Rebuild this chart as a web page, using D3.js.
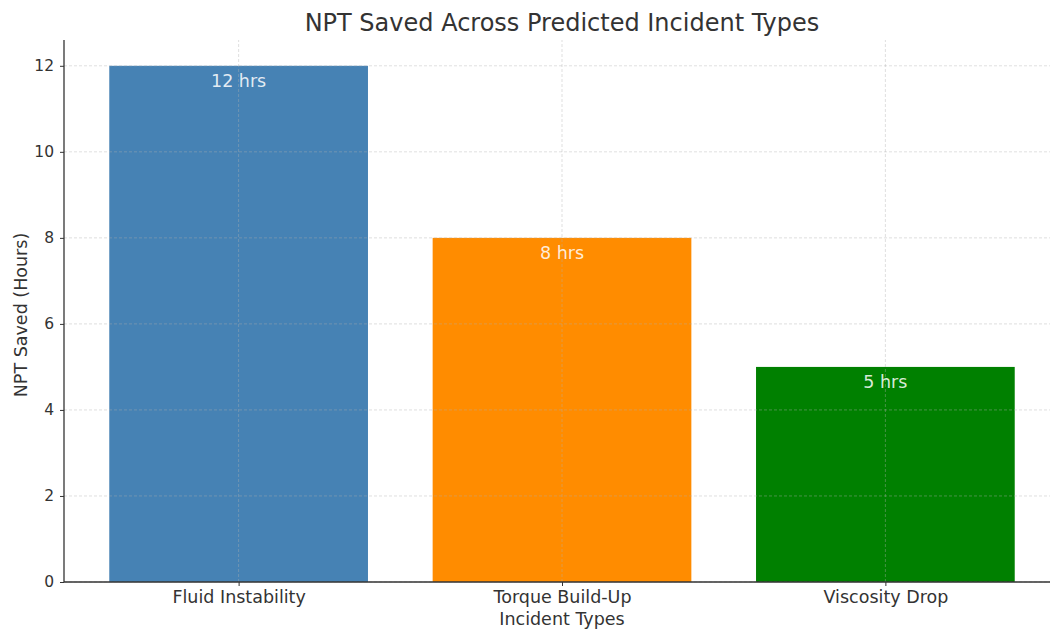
<!DOCTYPE html>
<html>
<head>
<meta charset="utf-8">
<script src="https://cdn.jsdelivr.net/npm/d3@7"></script>
<style>
  body { margin: 0; background: #fff; }
  text { font-family: "DejaVu Sans", sans-serif; }
</style>
</head>
<body>
<div id="chart"></div>
<script>
// chart data
const categories = ["Fluid Instability", "Torque Build-Up", "Viscosity Drop"]
const hoursSaved = [12, 8, 5]
const barColors = ["#4682b4", "#ff8c00", "#008000"]
const yTicks = [0, 2, 4, 6, 8, 10, 12]

const width = 1050, height = 629
const margin = {top: 40, left: 64, bottom: 47}

const svg = d3.select("#chart").append("svg")
  .attr("width", width).attr("height", height)

// x is linear over bar index, like matplotlib does it
const x = d3.scaleLinear().domain([-0.54, 2.54]).range([margin.left, 1060])
const y = d3.scaleLinear().domain([0, 12.6]).range([height - margin.bottom, margin.top])
const barW = x(0.4) - x(-0.4)

// bars
svg.selectAll(".bar").data(hoursSaved).enter().append("rect")
  .attr("x", (d, i) => x(i) - barW / 2)
  .attr("y", d => y(d))
  .attr("width", barW)
  .attr("height", d => y(0) - y(d))
  .attr("fill", (d, i) => barColors[i])

// grid lines on top of the bars
const grid = svg.append("g")
grid.selectAll(".hg").data(yTicks).enter().append("line")
  .attr("x1", margin.left).attr("x2", width)
  .attr("y1", d => y(d)).attr("y2", d => y(d))
grid.selectAll(".vg").data(categories).enter().append("line")
  .attr("x1", (d, i) => x(i)).attr("x2", (d, i) => x(i))
  .attr("y1", y(0)).attr("y2", margin.top)
grid.selectAll("line")
  .attr("stroke", "#b0b0b0").attr("stroke-opacity", 0.5)
  .attr("stroke-width", 0.8).attr("stroke-dasharray", "3,2")

// value labels inside bars
svg.selectAll(".lbl").data(hoursSaved).enter().append("text")
  .attr("x", (d, i) => x(i))
  .attr("y", d => y(d - 0.5))
  .attr("text-anchor", "middle")
  .attr("font-size", 17.5)
  .attr("fill", "#ffffff").attr("fill-opacity", 0.85)
  .text(d => d + " hrs")

// axes
const yAxis = d3.axisLeft(y).tickValues(yTicks).tickSize(4).tickPadding(6)
const gy = svg.append("g").attr("transform", "translate(" + margin.left + ",0)").call(yAxis)
const xAxis = d3.axisBottom(x).tickValues([0, 1, 2]).tickFormat((d) => categories[d]).tickSize(4).tickPadding(5)
const gx = svg.append("g").attr("transform", "translate(0," + y(0) + ")").call(xAxis)

gy.select(".domain").attr("d", "M0," + y(0) + "V" + margin.top)
gx.select(".domain").attr("d", "M" + margin.left + ",0H" + width)
svg.selectAll(".domain").attr("stroke", "#333").attr("stroke-width", 1.3)
svg.selectAll(".tick line").attr("stroke", "#333")
svg.selectAll(".tick text").attr("fill", "#333")
  .style("font-family", "DejaVu Sans, sans-serif")
gy.selectAll(".tick text").attr("font-size", 15.5)
gx.selectAll(".tick text").attr("font-size", 17.5)

// title and axis labels
svg.append("text")
  .attr("x", 562).attr("y", 31)
  .attr("text-anchor", "middle")
  .attr("font-size", 24).attr("fill", "#333")
  .text("NPT Saved Across Predicted Incident Types")

svg.append("text")
  .attr("x", 562).attr("y", 625)
  .attr("text-anchor", "middle")
  .attr("font-size", 17.5).attr("fill", "#333")
  .text("Incident Types")

svg.append("text")
  .attr("transform", "translate(27,315) rotate(-90)")
  .attr("text-anchor", "middle")
  .attr("font-size", 17.5).attr("fill", "#333")
  .text("NPT Saved (Hours)")
</script>
</body>
</html>
